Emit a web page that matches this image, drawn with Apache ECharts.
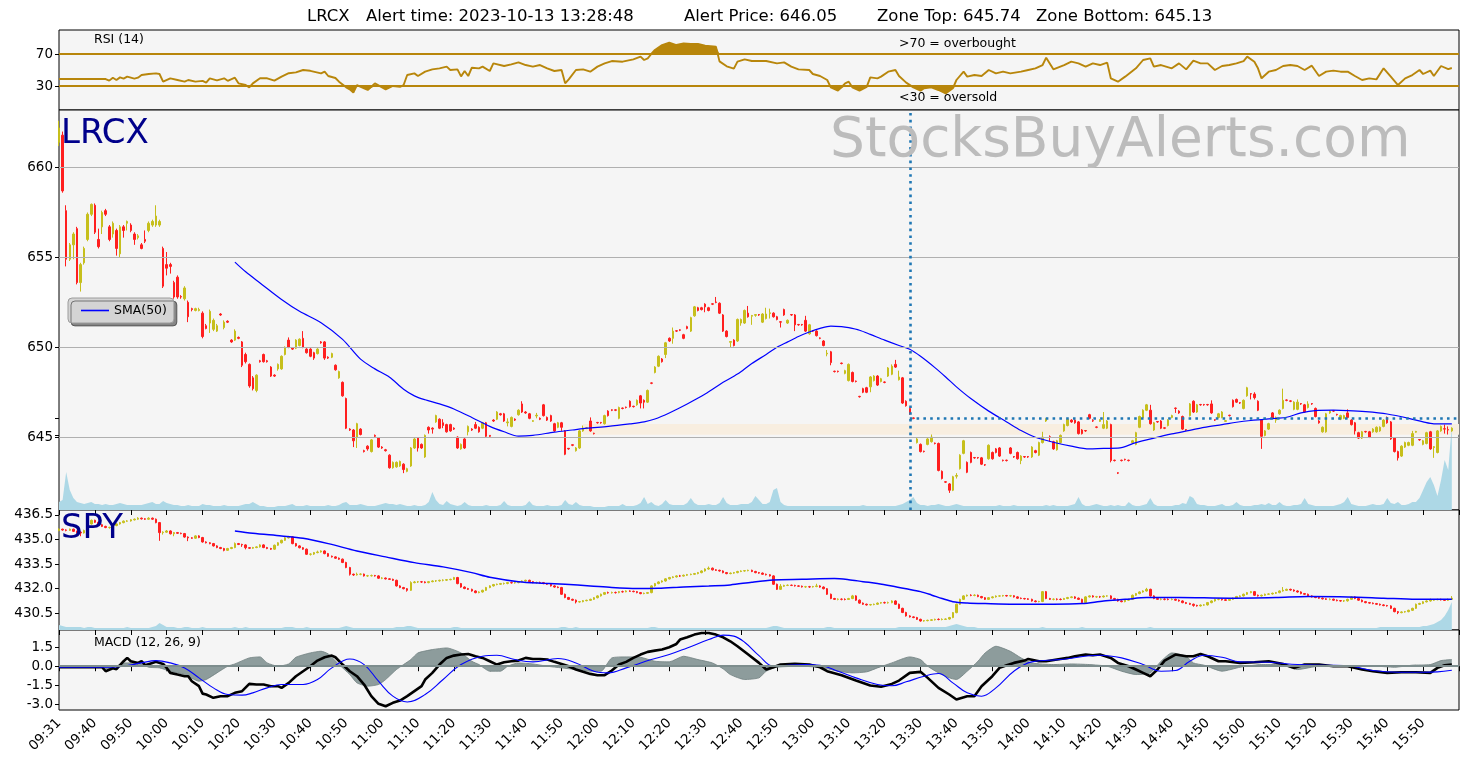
<!DOCTYPE html>
<html><head><meta charset="utf-8">
<script src="https://cdn.jsdelivr.net/npm/echarts@6/dist/echarts.min.js"></script>
<style>html,body{margin:0;padding:0;background:#fff}#c{width:1474px;height:768px}</style>
</head><body><div id="c"></div>
<script>
const tickLabels = ['09:31','09:40','09:50','10:00','10:10','10:20','10:30','10:40','10:50','11:00','11:10','11:20','11:30','11:40','11:50','12:00','12:10','12:20','12:30','12:40','12:50','13:00','13:10','13:20','13:30','13:40','13:50','14:00','14:10','14:20','14:30','14:40','14:50','15:00','15:10','15:20','15:30','15:40','15:50'];

const lrcxCandles = [
[661.4,662.2,661.2,662.6],[661.8,658.7,658.6,662.0],[657.6,654.9,654.5,657.9],[654.9,655.7,654.8,655.8],[655.7,656.3,654.9,656.4],[656.6,653.6,653.5,656.7],[653.6,654.6,653.1,654.7],[654.7,655.5,654.6,655.6],[656.0,657.4,655.9,657.5],[657.4,657.95,657.3,658.0],
[657.9,656.4,656.3,658.0],[656.0,655.6,655.5,656.6],[656.7,657.5,656.3,657.6],[657.6,657.4,657.3,657.7],[656.7,656.0,655.9,656.8],[656.3,656.9,656.1,657.0],[656.5,655.5,655.1,656.6],[655.2,656.7,655.0,656.8],[656.7,656.5,656.1,656.8],[656.9,657.0,656.5,657.05],
[656.8,656.5,656.4,656.9],[656.3,656.0,655.7,656.4],[656.1,656.2,656.0,656.3],[655.7,655.5,655.45,655.8],[656.0,655.9,655.8,656.5],[656.5,656.9,656.4,657.0],[656.8,657.0,656.7,657.1],[656.8,657.3,656.7,657.9],[656.8,657.0,656.7,657.1],[655.5,653.4,653.3,655.6],
[654.6,654.4,654.0,655.3],[654.6,654.5,654.1,654.7],[653.6,652.8,652.7,653.7],[653.9,652.8,652.7,654.0],[652.82,652.8,652.7,652.9],[652.7,653.3,652.6,653.4],[652.5,651.7,651.4,652.6],[652.15,652.1,652.0,652.2],[652.05,652.15,652.0,652.2],[652.05,652.1,652.0,652.2],
[651.9,650.6,650.5,652.0],[651.2,651.05,651.0,651.3],[651.35,652.0,650.8,652.1],[651.0,651.5,650.9,651.6],[650.9,651.2,650.85,651.3],[651.85,651.8,651.75,651.9],[651.1,651.4,651.0,651.5],[651.45,651.4,651.35,651.5],[650.4,650.3,650.25,650.45],[650.4,650.9,650.35,651.0],
[650.55,650.5,650.45,650.6],[650.3,649.0,648.9,650.35],[649.6,649.2,649.1,649.7],[649.05,647.85,647.75,649.1],[648.3,647.7,647.6,648.4],[647.6,648.45,647.5,648.5],[649.25,649.2,649.15,649.3],[649.6,649.2,649.15,649.65],[649.25,649.2,649.15,649.3],[648.9,648.4,648.35,648.95],
[648.45,648.4,648.35,648.5],[648.8,649.05,648.7,649.1],[648.8,649.5,648.75,649.55],[649.6,650.0,649.55,650.05],[650.4,650.0,649.95,650.55],[649.95,649.9,649.85,650.0],[649.95,650.4,649.9,650.45],[650.1,650.45,650.05,650.5],[650.5,650.0,649.95,650.9],[649.9,649.7,649.65,649.95],
[649.9,649.5,649.45,649.95],[649.7,649.4,649.3,649.75],[649.65,649.9,649.6,649.95],[650.3,650.25,650.2,650.35],[650.3,649.4,649.3,650.35],[649.45,649.4,649.35,649.5],[649.45,649.65,649.4,649.7],[649.0,648.75,648.7,649.05],[648.3,648.65,648.25,648.7],[648.05,647.3,647.25,648.1],
[647.15,645.5,645.45,647.2],[645.45,645.4,645.35,645.5],[645.4,644.8,644.45,645.45],[645.0,645.75,644.4,645.8],[645.45,645.15,645.1,645.5],[644.25,644.2,644.15,644.3],[644.5,644.35,644.25,644.55],[644.2,644.85,644.15,644.9],[645.1,645.05,645.0,645.15],[644.95,644.45,644.4,645.0],
[644.45,644.4,644.35,644.5],[644.3,644.25,644.2,644.35],[644.0,643.3,643.25,644.05],[643.3,643.6,643.25,643.65],[643.35,643.6,643.3,643.65],[643.4,643.65,643.35,643.7],[643.5,643.2,643.0,643.55],[643.1,643.25,643.05,643.3],[643.4,644.4,643.35,644.45],[644.4,644.9,644.35,644.95],
[644.95,644.4,644.2,645.0],[644.6,644.4,644.35,644.65],[643.9,645.1,643.85,645.15],[645.55,645.4,645.2,645.6],[645.5,645.45,645.2,645.55],[645.85,646.2,645.8,646.25],[646.0,645.5,645.45,646.05],[645.8,645.65,645.5,646.0],[645.7,645.3,645.25,645.75],[645.7,645.35,645.3,645.75],
[645.5,645.45,645.4,645.55],[645.0,644.4,644.35,645.05],[644.35,644.6,644.3,644.65],[644.9,644.4,644.35,644.95],[645.3,645.6,645.1,645.65],[645.45,645.4,645.35,645.5],[645.7,645.5,645.45,645.85],[645.55,645.3,645.25,645.6],[645.5,645.8,645.45,645.85],[645.8,645.05,645.0,645.85],
[645.1,645.05,645.0,645.12],[645.95,645.9,645.85,646.0],[646.0,646.4,645.95,646.45],[646.3,646.25,646.2,646.35],[646.3,645.9,645.85,646.35],[645.8,645.85,645.6,646.05],[645.6,646.1,645.55,646.15],[646.0,645.95,645.9,646.05],[646.25,646.5,646.2,646.55],[646.85,646.4,646.35,647.0],
[646.4,646.35,646.3,646.45],[646.3,646.05,646.0,646.35],[645.88,645.92,645.85,645.95],[646.18,646.22,646.05,646.35],[646.05,646.0,645.95,646.1],[646.8,646.2,646.15,646.85],[646.1,645.95,645.9,646.15],[646.2,645.9,645.85,646.25],[645.75,645.35,645.3,645.8],[645.55,645.8,645.5,645.85],
[645.8,645.55,645.35,645.85],[645.35,644.05,644.0,645.4],[644.38,644.35,644.3,644.4],[644.58,644.55,644.5,644.6],[644.25,644.4,644.2,644.45],[644.4,645.35,644.35,645.4],[645.35,645.5,645.3,645.65],[645.48,645.52,645.45,645.55],[645.9,645.35,645.3,646.1],[645.22,645.2,645.15,645.25],
[645.82,645.8,645.75,645.85],[645.82,645.8,645.75,645.85],[645.75,646.2,645.7,646.25],[646.45,646.2,646.15,646.5],[646.52,646.5,646.45,646.55],[646.52,646.5,646.45,646.55],[646.05,646.65,646.0,646.7],[646.62,646.6,646.55,646.65],[646.67,646.65,646.6,646.7],[647.0,646.7,646.65,647.05],
[646.72,646.7,646.65,646.75],[646.8,647.05,646.75,647.1],[647.3,646.9,646.6,647.35],[647.05,646.95,646.6,647.1],[646.95,647.6,646.9,647.65],[648.02,648.0,647.95,648.05],[648.6,648.9,648.55,648.95],[648.95,649.5,648.9,649.55],[649.35,649.2,649.15,649.4],[649.6,650.25,649.4,650.3],
[650.5,650.35,650.3,650.55],[650.5,650.9,650.2,651.1],[650.92,650.9,650.85,650.95],[650.97,650.95,650.9,651.0],[650.7,650.5,650.45,650.75],[651.15,651.05,651.0,651.2],[650.9,651.65,650.85,651.7],[651.75,652.25,651.7,652.3],[652.2,652.05,652.0,652.25],[652.2,652.1,652.05,652.25],
[652.4,652.25,651.95,652.45],[652.2,652.05,652.0,652.25],[652.42,652.4,652.35,652.45],[652.52,652.5,652.45,652.8],[652.45,651.9,651.85,652.5],[651.8,650.9,650.85,651.85],[650.9,650.6,650.55,650.95],[650.28,650.32,650.0,650.35],[650.4,650.1,650.05,650.45],[650.35,651.55,650.3,651.6],
[651.35,651.55,651.2,651.6],[651.35,652.05,651.3,652.1],[651.9,651.7,651.65,652.3],[651.73,651.77,651.25,651.8],[651.78,651.82,651.7,651.85],[651.82,651.8,651.75,651.85],[651.4,651.85,651.35,651.9],[651.6,651.85,651.55,652.2],[651.88,651.92,651.6,652.15],[651.9,651.7,651.65,651.95],
[651.7,651.55,651.5,651.75],[651.42,651.4,651.1,651.45],[652.1,651.8,651.75,652.15],[651.35,651.5,651.3,651.55],[651.82,651.8,651.75,651.85],[651.8,651.25,650.9,651.85],[651.27,651.25,651.2,651.3],[651.27,651.25,651.2,651.3],[651.5,650.9,650.85,651.75],[650.75,651.25,650.7,651.3],
[650.92,650.9,650.85,650.95],[650.9,650.65,650.6,650.95],[650.52,650.5,650.45,650.55],[650.35,650.1,650.05,650.4],[649.63,649.67,649.5,649.85],[649.75,649.15,649.0,649.8],[648.67,648.65,648.6,648.7],[648.67,648.65,648.6,648.7],[649.12,649.1,649.05,649.15],[648.55,648.7,648.5,648.75],
[648.15,649.05,648.1,649.1],[648.6,648.1,648.05,648.65],[648.12,648.1,648.05,648.15],[647.27,647.25,647.2,647.3],[647.7,647.5,647.45,647.75],[647.75,647.5,647.45,647.8],[647.8,648.35,647.5,648.4],[648.15,648.4,648.1,648.45],[648.4,647.9,647.85,648.45],[648.1,648.25,648.05,648.3],
[648.07,648.05,648.0,648.1],[648.4,648.85,648.35,648.9],[648.5,648.95,648.45,649.05],[649.05,648.9,648.85,649.3],[648.2,648.35,648.15,648.7],[648.3,646.9,646.85,648.35],[647.0,646.75,646.7,647.05],[646.6,646.3,646.25,646.65],[646.07,646.05,646.0,646.1],[644.7,644.9,644.65,644.95],
[644.6,644.2,644.15,644.65],[644.22,644.2,644.15,644.25],[644.6,644.9,644.55,644.95],[644.75,645.0,644.7,645.15],[644.67,644.65,644.6,644.7],[644.65,643.15,643.1,644.7],[643.1,642.7,642.65,643.15],[642.52,642.5,642.45,642.55],[642.4,642.05,641.9,642.45],[642.05,642.8,642.0,642.85],
[642.83,642.87,642.7,643.0],[643.25,644.0,643.2,644.05],[644.1,644.8,644.05,644.85],[643.6,643.05,643.0,643.65],[644.15,643.6,643.55,644.2],[643.87,643.85,643.8,643.9],[643.87,643.85,643.8,643.9],[643.85,643.5,643.45,643.9],[643.47,643.45,643.4,643.5],[643.8,644.55,643.75,644.6],
[644.15,643.8,643.75,644.2],[644.35,644.15,644.1,644.4],[644.4,643.95,643.9,644.45],[643.72,643.7,643.65,643.75],[643.72,643.7,643.65,643.75],[644.4,644.1,644.05,644.45],[643.92,643.9,643.85,643.95],[644.15,643.8,643.75,644.2],[643.7,643.95,643.5,644.0],[643.92,643.9,643.85,643.95],
[643.92,643.9,643.85,643.95],[643.9,644.45,643.85,644.5],[644.25,644.15,644.1,644.3],[644.0,644.7,643.95,644.75],[644.7,645.0,644.65,645.3],[645.9,646.0,645.85,646.05],[645.02,645.0,644.75,645.1],[644.75,644.35,644.3,644.8],[644.3,644.8,644.25,644.85],[644.7,645.1,644.65,645.15],
[645.35,645.7,645.3,645.75],[645.65,646.0,645.6,646.05],[645.95,645.85,645.8,646.0],[645.95,645.8,645.75,646.0],[645.85,645.2,645.15,645.9],[645.4,645.2,645.15,645.45],[645.37,645.35,645.3,645.4],[646.25,646.05,646.0,646.3],[645.92,645.9,645.85,646.0],[645.57,645.55,645.5,645.6],
[645.88,645.95,645.85,646.0],[645.5,645.7,645.45,646.4],[645.5,645.9,645.45,645.95],[645.7,643.7,643.6,645.75],[643.72,643.7,643.65,643.75],[643.02,643.0,642.95,643.05],[643.72,643.7,643.65,643.75],[643.77,643.75,643.7,643.8],[643.72,643.7,643.65,643.75],[644.7,644.8,644.65,644.85],
[644.6,645.25,644.55,645.3],[645.55,646.15,645.5,646.2],[646.1,646.5,646.05,646.55],[646.5,646.8,646.45,646.85],[646.5,645.75,645.7,646.8],[645.4,645.8,645.35,645.85],[645.87,645.85,645.8,645.9],[645.9,645.5,645.45,645.95],[645.52,645.5,645.45,645.55],[645.65,645.95,645.6,646.0],
[646.1,646.2,646.05,646.25],[646.62,646.6,646.35,646.65],[646.45,646.35,646.3,646.5],[646.15,645.45,645.4,646.2],[645.42,645.4,645.35,645.45],[646.2,646.85,646.15,646.9],[647.0,646.4,646.35,647.05],[646.4,646.8,646.35,646.85],[646.82,646.8,646.75,646.85],[646.82,646.8,646.75,646.85],
[646.82,646.8,646.75,646.85],[646.85,646.35,646.3,647.05],[645.97,645.95,645.9,646.0],[646.1,646.3,646.05,646.35],[646.1,646.4,646.05,646.45],[645.88,645.92,645.85,645.95],[646.22,646.2,646.15,646.25],[647.05,646.7,646.65,647.1],[647.1,646.95,646.9,647.15],[646.92,646.9,646.85,646.95],
[646.6,647.05,646.55,647.1],[647.3,647.75,647.25,647.8],[647.42,647.4,647.1,647.45],[647.4,647.2,647.1,647.5],[647.0,646.5,646.45,647.05],[645.95,645.05,644.35,646.0],[645.1,645.35,645.05,645.4],[645.45,645.75,645.4,645.8],[646.35,646.05,646.0,646.4],[645.95,646.1,645.8,646.15],
[646.3,646.5,646.25,646.55],[646.6,647.05,646.55,647.7],[647.07,647.05,647.0,647.1],[647.02,647.0,646.95,647.05],[646.55,646.95,646.5,647.0],[646.55,646.95,646.5,647.1],[646.87,646.85,646.8,646.9],[646.8,646.4,646.35,646.85],[646.65,646.85,646.6,647.0],[646.87,646.85,646.8,646.9],
[646.6,646.15,646.1,646.65],[645.9,645.8,645.75,645.95],[645.3,645.55,645.25,645.6],[645.3,646.3,645.25,646.35],[646.35,646.45,646.3,646.5],[646.47,646.45,646.4,646.5],[646.27,646.25,646.2,646.3],[646.0,646.2,645.95,646.25],[646.05,646.2,646.0,646.25],[646.35,646.1,646.05,646.55],
[645.95,645.7,645.65,646.0],[645.8,645.35,645.15,645.85],[645.25,644.95,644.9,645.3],[644.95,645.3,644.9,645.35],[645.32,645.3,645.25,645.35],[645.3,645.0,644.95,645.35],[645.3,645.45,645.25,645.5],[645.3,645.55,645.25,645.6],[645.35,645.55,645.3,645.6],[645.6,645.95,645.55,646.0],
[646.1,645.8,645.75,646.15],[645.85,644.9,644.85,645.9],[644.95,644.2,644.15,645.0],[644.2,643.85,643.7,644.25],[643.95,644.5,643.9,644.55],[644.45,644.7,644.4,644.75],[644.55,644.7,644.5,644.75],[644.55,645.2,644.5,645.35],[645.28,645.32,645.25,645.35],[644.87,644.85,644.8,644.9],
[644.6,644.8,644.55,644.85],[644.65,645.25,644.6,645.3],[645.3,644.35,644.3,645.35],[644.43,644.47,643.85,644.5],[644.15,645.35,644.1,645.4],[645.35,645.6,645.3,645.65],[645.47,645.45,645.2,645.7],[645.42,645.4,645.15,645.6],[645.35,645.5,645.3,645.55]
];

const lrcxVolume = [
8,10,38,20,12,8,7,6,7,8, 6,6,5,6,5,5,6,7,6,5, 5,5,5,5,6,7,8,6,6,9, 7,6,5,5,4,4,5,4,4,4,
6,5,5,4,4,4,5,4,4,4, 4,5,6,6,8,6,4,4,3,3, 3,4,4,4,5,6,4,4,4,5, 4,4,4,4,4,5,4,4,5,7,
8,5,5,5,6,5,4,4,4,5, 6,7,6,6,5,6,5,4,4,5, 4,4,5,8,18,10,6,5,9,6, 5,4,5,8,5,4,4,4,4,5,
4,4,4,5,9,5,4,4,4,4, 5,9,5,4,4,4,5,4,4,4, 5,10,6,5,8,5,4,4,4,3, 3,3,3,4,4,4,4,6,4,4,
4,5,7,13,6,8,5,4,6,10, 6,5,5,5,5,7,12,7,5,5, 5,6,5,5,7,13,7,5,5,5, 6,6,6,8,14,10,6,6,8,20,
22,8,5,4,4,4,4,4,4,4, 4,4,4,4,4,4,4,4,4,4, 4,4,4,4,5,4,4,4,4,4, 4,4,4,4,5,6,8,10,13,7,
5,5,4,5,5,6,5,4,4,5, 6,5,4,4,4,4,4,4,4,4, 4,4,5,4,4,4,5,4,4,4, 4,4,4,4,4,5,4,5,4,4,
4,4,5,6,13,6,4,4,5,6, 5,4,4,5,4,5,4,4,8,5, 4,4,5,6,12,6,4,4,4,4, 4,5,5,7,6,14,12,6,5,5,
4,4,4,5,6,4,4,5,8,5, 4,4,4,5,5,6,5,7,5,5, 8,5,4,4,5,5,6,12,6,5, 4,4,4,4,4,4,5,6,8,13,
6,5,4,4,4,5,6,5,5,6, 12,7,6,8,5,5,6,8,8,12, 20,28,33,25,14,30,50,40,85
];

const lrcxSma = [[49,654.74],[52,654.2],[56,653.58],[62,652.66],[67,652.0],[73,651.37],[79,650.44],[84,649.34],[88,648.8],[92,648.35],[96,647.67],[99,647.3],[102,647.08],[106,646.85],[110,646.57],[115,646.1],[120,645.6],[124,645.3],[128,645.06],[132,645.1],[138,645.28],[143,645.4],[147,645.5],[153,645.6],[159,645.74],[163,645.85],[166,646.01],[170,646.35],[175,646.85],[180,647.4],[185,648.05],[189,648.51],[193,649.1],[197,649.6],[200,650.0],[203,650.3],[206,650.6],[209,650.85],[212,651.05],[215,651.18],[218,651.15],[220,651.09],[223,650.95],[226,650.72],[230,650.4],[234,650.1],[237,649.89],[240,649.5],[244,648.87],[247,648.35],[250,647.8],[254,647.15],[259,646.45],[264,645.85],[268,645.37],[272,645.0],[277,644.72],[282,644.5],[287,644.35],[291,644.38],[295,644.39],[300,644.7],[305,644.95],[310,645.18],[315,645.38],[319,645.55],[324,645.7],[328,645.83],[332,645.93],[335,645.98],[339,646.05],[342,646.11],[346,646.35],[350,646.48],[355,646.5],[359,646.48],[364,646.42],[370,646.29],[376,646.05],[380,645.85],[383,645.74],[388,645.74]];

const spyCandles = [
[435.55,435.63,435.50,435.68],[435.63,435.58,435.54,435.66],[435.58,435.56,435.50,435.62],[435.56,435.63,435.52,435.67],[435.63,435.50,435.46,435.66],[435.50,435.45,435.38,435.54],[435.45,435.40,435.20,435.49],[435.40,435.55,435.36,435.60],[435.55,435.95,435.51,436.00],[435.95,436.17,435.91,436.22],
[436.17,436.05,436.01,436.21],[436.05,435.90,435.86,436.09],[435.90,435.80,435.76,435.94],[435.80,435.73,435.69,435.84],[435.73,435.74,435.66,435.78],[435.74,435.85,435.69,435.89],[435.85,435.95,435.81,435.99],[435.95,436.03,435.91,436.07],[436.03,436.12,435.99,436.16],[436.12,436.13,436.08,436.18],
[436.13,436.20,436.09,436.24],[436.20,436.24,436.16,436.28],[436.24,436.30,436.20,436.36],[436.30,436.26,436.22,436.34],[436.26,436.24,436.20,436.30],[436.24,436.30,436.20,436.36],[436.30,436.24,436.20,436.34],[436.24,436.03,435.99,436.28],[436.03,435.42,434.92,436.07],[435.42,435.45,435.30,435.50],
[435.45,435.52,435.41,435.58],[435.52,435.35,435.31,435.56],[435.35,435.42,435.20,435.46],[435.42,435.38,435.34,435.46],[435.38,435.36,435.32,435.42],[435.36,435.15,435.11,435.40],[435.15,435.10,434.90,435.19],[435.10,435.08,435.04,435.14],[435.08,435.22,435.04,435.26],[435.22,435.12,435.08,435.26],
[435.12,434.85,434.81,435.16],[434.85,434.80,434.76,434.89],[434.80,434.75,434.71,434.84],[434.75,434.61,434.57,434.79],[434.61,434.51,434.47,434.65],[434.51,434.45,434.41,434.55],[434.45,434.34,434.28,434.49],[434.34,434.45,434.30,434.49],[434.45,434.51,434.41,434.55],[434.51,434.75,434.47,434.82],
[434.75,434.70,434.66,434.79],[434.70,434.67,434.55,434.74],[434.67,434.50,434.40,434.71],[434.50,434.47,434.43,434.54],[434.47,434.51,434.43,434.55],[434.51,434.55,434.47,434.59],[434.55,434.67,434.51,434.71],[434.67,434.51,434.47,434.71],[434.51,434.45,434.41,434.55],[434.45,434.41,434.37,434.49],
[434.41,434.65,434.37,434.69],[434.65,434.80,434.61,434.84],[434.80,434.95,434.76,434.99],[434.95,435.10,434.91,435.14],[435.10,435.16,435.06,435.22],[435.16,434.75,434.71,435.20],[434.75,434.61,434.57,434.79],[434.61,434.50,434.46,434.65],[434.50,434.41,434.37,434.54],[434.41,434.10,434.06,434.45],
[434.10,434.11,434.02,434.16],[434.11,434.20,434.06,434.24],[434.20,434.24,434.16,434.32],[434.24,434.30,434.20,434.34],[434.30,434.14,434.10,434.34],[434.14,433.98,433.94,434.18],[433.98,433.94,433.90,434.02],[433.94,433.86,433.82,433.98],[433.86,433.80,433.76,433.90],[433.80,433.60,433.56,433.84],
[433.60,433.29,433.25,433.64],[433.29,432.88,432.80,433.33],[432.88,432.84,432.78,432.92],[432.84,432.88,432.80,432.98],[432.88,432.89,432.82,432.94],[432.89,432.78,432.74,432.92],[432.78,432.79,432.72,432.84],[432.79,432.80,432.74,432.86],[432.80,432.78,432.74,432.84],[432.78,432.64,432.60,432.82],
[432.64,432.65,432.58,432.70],[432.65,432.60,432.56,432.68],[432.60,432.57,432.53,432.64],[432.57,432.51,432.47,432.61],[432.51,432.17,432.13,432.55],[432.17,432.07,432.03,432.21],[432.07,432.00,431.96,432.11],[432.00,431.90,431.82,432.04],[431.90,432.37,431.86,432.45],[432.37,432.41,432.33,432.47],
[432.41,432.42,432.35,432.47],[432.42,432.41,432.35,432.47],[432.41,432.37,432.33,432.45],[432.37,432.43,432.33,432.47],[432.43,432.47,432.39,432.51],[432.47,432.48,432.41,432.53],[432.48,432.51,432.43,432.55],[432.51,432.52,432.45,432.57],[432.52,432.55,432.47,432.59],[432.55,432.57,432.51,432.61],
[432.57,432.68,432.53,432.72],[432.68,432.31,432.27,432.72],[432.31,432.10,432.06,432.35],[432.10,432.01,431.97,432.14],[432.01,431.96,431.92,432.05],[431.96,431.86,431.82,432.00],[431.86,431.76,431.72,431.90],[431.76,431.80,431.72,431.84],[431.80,431.90,431.76,431.94],[431.90,432.07,431.86,432.11],
[432.07,432.17,432.03,432.21],[432.17,432.25,432.13,432.29],[432.25,432.27,432.21,432.31],[432.27,432.31,432.23,432.35],[432.31,432.32,432.25,432.37],[432.32,432.37,432.27,432.41],[432.37,432.36,432.31,432.43],[432.36,432.37,432.31,432.43],[432.37,432.43,432.33,432.47],[432.43,432.47,432.39,432.51],
[432.47,432.51,432.43,432.55],[432.51,432.43,432.39,432.55],[432.43,432.37,432.33,432.47],[432.37,432.38,432.31,432.43],[432.38,432.37,432.31,432.43],[432.37,432.31,432.27,432.41],[432.31,432.27,432.23,432.35],[432.27,432.17,432.13,432.31],[432.17,432.10,432.06,432.21],[432.10,432.07,432.03,432.14],
[432.07,431.66,431.62,432.11],[431.66,431.46,431.42,431.70],[431.46,431.35,431.31,431.50],[431.35,431.30,431.26,431.39],[431.30,431.19,431.10,431.34],[431.19,431.21,431.15,431.25],[431.21,431.27,431.17,431.31],[431.27,431.29,431.23,431.33],[431.29,431.35,431.25,431.39],[431.35,431.45,431.31,431.49],
[431.45,431.56,431.41,431.60],[431.56,431.66,431.52,431.70],[431.66,431.76,431.62,431.80],[431.76,431.75,431.70,431.82],[431.75,431.77,431.70,431.82],[431.77,431.76,431.70,431.82],[431.76,431.82,431.72,431.86],[431.82,431.81,431.76,431.88],[431.81,431.86,431.78,431.90],[431.86,431.84,431.80,431.90],
[431.84,431.82,431.78,431.88],[431.82,431.76,431.72,431.86],[431.76,431.70,431.66,431.80],[431.70,431.72,431.66,431.76],[431.72,431.76,431.68,431.80],[431.76,432.17,431.72,432.21],[432.17,432.31,432.13,432.35],[432.31,432.41,432.27,432.45],[432.41,432.47,432.37,432.51],[432.47,432.60,432.43,432.64],
[432.60,432.68,432.56,432.72],[432.68,432.72,432.64,432.76],[432.72,432.78,432.68,432.82],[432.78,432.77,432.72,432.84],[432.77,432.82,432.74,432.86],[432.82,432.86,432.78,432.90],[432.86,432.88,432.82,432.92],[432.88,432.92,432.84,432.96],[432.92,432.98,432.88,433.02],[432.98,433.08,432.94,433.12],
[433.08,433.20,433.04,433.24],[433.20,433.25,433.16,433.35],[433.25,433.15,433.11,433.29],[433.15,433.12,433.08,433.19],[433.12,433.08,433.04,433.16],[433.08,432.98,432.94,433.12],[432.98,432.92,432.88,433.02],[432.92,432.95,432.88,432.99],[432.95,432.98,432.91,433.02],[432.98,433.05,432.94,433.09],
[433.05,433.08,433.01,433.12],[433.08,433.10,433.04,433.14],[433.10,433.12,433.06,433.16],[433.12,433.05,433.01,433.16],[433.05,432.98,432.94,433.09],[432.98,432.95,432.91,433.02],[432.95,432.88,432.84,432.99],[432.88,432.85,432.81,432.92],[432.85,432.78,432.74,432.89],[432.78,432.27,432.23,432.82],
[432.27,431.96,431.92,432.31],[431.96,432.15,431.92,432.28],[432.15,432.20,432.11,432.24],[432.20,432.21,432.16,432.26],[432.21,432.20,432.16,432.25],[432.20,432.17,432.13,432.24],[432.17,432.15,432.11,432.21],[432.15,432.11,432.07,432.19],[432.11,432.12,432.05,432.17],[432.12,432.11,432.05,432.17],
[432.11,432.13,432.07,432.17],[432.13,432.17,432.09,432.30],[432.17,432.10,432.06,432.21],[432.10,432.00,431.96,432.14],[432.00,431.66,431.62,432.04],[431.66,431.40,431.36,431.70],[431.40,431.35,431.31,431.44],[431.35,431.36,431.29,431.41],[431.36,431.35,431.29,431.41],[431.35,431.34,431.29,431.41],
[431.34,431.40,431.31,431.44],[431.40,431.56,431.36,431.62],[431.56,431.30,431.26,431.60],[431.30,431.12,431.08,431.34],[431.12,431.05,431.01,431.16],[431.05,431.01,430.97,431.09],[431.01,431.03,430.97,431.07],[431.03,431.05,430.99,431.09],[431.05,431.12,431.01,431.16],[431.12,431.15,431.08,431.19],
[431.15,431.14,431.09,431.21],[431.14,431.15,431.09,431.21],[431.15,431.25,431.11,431.29],[431.25,431.05,431.01,431.29],[431.05,430.80,430.76,431.09],[430.80,430.55,430.51,430.84],[430.55,430.34,430.30,430.59],[430.34,430.28,430.24,430.38],[430.28,430.24,430.20,430.32],[430.24,430.13,430.09,430.28],
[430.13,430.03,429.99,430.17],[430.03,430.05,429.99,430.09],[430.05,430.07,430.01,430.11],[430.07,430.10,430.03,430.14],[430.10,430.13,430.06,430.17],[430.13,430.12,430.07,430.19],[430.12,430.13,430.07,430.19],[430.13,430.15,430.09,430.19],[430.15,430.24,430.11,430.28],[430.24,430.54,430.20,430.58],
[430.54,431.05,430.50,431.09],[431.05,431.35,431.01,431.39],[431.35,431.56,431.31,431.60],[431.56,431.60,431.52,431.64],[431.60,431.59,431.54,431.66],[431.59,431.60,431.54,431.66],[431.60,431.52,431.48,431.64],[431.52,431.45,431.41,431.56],[431.45,431.35,431.31,431.49],[431.35,431.45,431.31,431.49],
[431.45,431.50,431.41,431.54],[431.50,431.55,431.46,431.59],[431.55,431.56,431.51,431.60],[431.56,431.58,431.52,431.62],[431.58,431.56,431.52,431.62],[431.56,431.57,431.50,431.62],[431.57,431.50,431.46,431.60],[431.50,431.42,431.38,431.54],[431.42,431.40,431.36,431.46],[431.40,431.38,431.34,431.44],
[431.38,431.35,431.31,431.42],[431.35,431.25,431.21,431.39],[431.25,431.21,431.17,431.29],[431.21,431.22,431.17,431.26],[431.22,431.82,431.18,431.86],[431.82,431.40,431.36,431.86],[431.40,431.35,431.31,431.44],[431.35,431.36,431.29,431.41],[431.36,431.35,431.29,431.41],[431.35,431.34,431.29,431.41],
[431.34,431.40,431.31,431.44],[431.40,431.46,431.36,431.50],[431.46,431.50,431.42,431.54],[431.50,431.42,431.38,431.54],[431.42,431.35,431.31,431.46],[431.35,431.15,431.11,431.39],[431.15,431.50,431.11,431.54],[431.50,431.56,431.46,431.60],[431.56,431.50,431.46,431.60],[431.50,431.51,431.44,431.56],
[431.51,431.50,431.44,431.56],[431.50,431.55,431.46,431.59],[431.55,431.56,431.51,431.60],[431.56,431.40,431.36,431.60],[431.40,431.35,431.31,431.44],[431.35,431.25,431.21,431.39],[431.25,431.21,431.17,431.29],[431.21,431.30,431.17,431.34],[431.30,431.35,431.26,431.39],[431.35,431.60,431.31,431.64],
[431.60,431.70,431.56,431.74],[431.70,431.80,431.66,431.84],[431.80,431.86,431.76,431.90],[431.86,431.96,431.82,432.05],[431.96,431.56,431.52,432.00],[431.56,431.40,431.36,431.60],[431.40,431.35,431.31,431.44],[431.35,431.36,431.29,431.41],[431.36,431.35,431.29,431.41],[431.35,431.34,431.29,431.41],
[431.34,431.35,431.29,431.41],[431.35,431.30,431.26,431.39],[431.30,431.25,431.21,431.34],[431.25,431.15,431.11,431.29],[431.15,431.10,431.06,431.19],[431.10,431.05,431.01,431.14],[431.05,430.98,430.90,431.09],[430.98,430.95,430.91,431.02],[430.95,431.00,430.91,431.04],[431.00,431.01,430.96,431.05],
[431.01,431.15,430.97,431.19],[431.15,431.25,431.11,431.29],[431.25,431.35,431.21,431.39],[431.35,431.36,431.29,431.41],[431.36,431.32,431.28,431.39],[431.32,431.29,431.25,431.36],[431.29,431.35,431.25,431.39],[431.35,431.42,431.31,431.46],[431.42,431.52,431.38,431.56],[431.52,431.56,431.48,431.60],
[431.56,431.66,431.52,431.70],[431.66,431.76,431.62,431.80],[431.76,431.82,431.72,431.86],[431.82,431.60,431.56,431.86],[431.60,431.56,431.52,431.64],[431.56,431.60,431.52,431.64],[431.60,431.66,431.56,431.70],[431.66,431.68,431.62,431.72],[431.68,431.72,431.64,431.76],[431.72,431.76,431.68,431.80],
[431.76,431.86,431.72,431.90],[431.86,431.90,431.82,432.10],[431.90,431.96,431.86,432.00],[431.96,431.92,431.88,432.00],[431.92,431.86,431.82,431.96],[431.86,431.80,431.76,431.90],[431.80,431.70,431.66,431.84],[431.70,431.66,431.62,431.74],[431.66,431.56,431.52,431.70],[431.56,431.50,431.46,431.60],
[431.50,431.46,431.42,431.54],[431.46,431.42,431.38,431.50],[431.42,431.38,431.34,431.46],[431.38,431.35,431.31,431.42],[431.35,431.36,431.29,431.41],[431.36,431.30,431.26,431.39],[431.30,431.27,431.23,431.34],[431.27,431.25,431.21,431.31],[431.25,431.26,431.19,431.31],[431.26,431.35,431.21,431.39],
[431.35,431.50,431.31,431.54],[431.50,431.40,431.36,431.54],[431.40,431.30,431.26,431.44],[431.30,431.21,431.17,431.34],[431.21,431.15,431.11,431.25],[431.15,431.12,431.08,431.19],[431.12,431.09,431.05,431.16],[431.09,431.05,431.01,431.13],[431.05,431.01,430.97,431.09],[431.01,430.97,430.93,431.05],
[430.97,430.95,430.91,431.01],[430.95,430.80,430.76,430.99],[430.80,430.60,430.56,430.84],[430.60,430.54,430.45,430.64],[430.54,430.58,430.50,430.62],[430.58,430.60,430.54,430.64],[430.60,430.68,430.56,430.72],[430.68,430.80,430.64,430.84],[430.80,431.05,430.76,431.09],[431.05,431.10,431.01,431.14],
[431.10,431.20,431.06,431.24],[431.20,431.25,431.16,431.29],[431.25,431.30,431.21,431.40],[431.30,431.33,431.26,431.37],[431.33,431.35,431.29,431.39],[431.35,431.32,431.28,431.39],[431.32,431.29,431.25,431.36],[431.29,431.35,431.25,431.40],[431.35,431.42,431.31,431.55]
];

const spyVolume = [
5,4,3,3,3,3,3,2,3,3, 2,2,2,2,2,2,2,2,2,3, 2,2,2,2,2,2,3,4,7,5, 3,3,3,2,2,3,3,2,2,2,
3,2,2,2,2,2,2,2,2,3, 2,2,3,2,2,2,2,2,2,2, 2,2,2,3,3,3,2,2,2,3, 2,2,2,2,2,2,2,2,2,3,
4,3,2,2,2,2,2,2,2,2, 2,2,2,2,3,3,3,4,4,3, 2,2,2,2,2,2,2,2,2,2, 3,3,2,2,2,2,2,2,2,2,
2,2,2,2,2,2,2,2,2,2, 2,2,2,2,2,2,2,2,2,2, 3,3,2,2,3,2,2,2,2,2, 2,2,2,2,2,2,2,2,2,2,
2,2,2,2,2,3,3,2,2,2, 2,2,2,2,2,2,2,2,2,2, 2,2,2,2,2,2,2,2,2,2, 2,2,2,2,2,2,2,2,3,4,
4,3,2,2,2,2,2,2,2,2, 2,2,2,2,3,3,2,2,2,2, 2,2,2,2,2,2,2,2,2,2, 2,2,2,2,3,3,3,3,3,3,
3,3,3,3,3,3,3,3,4,5, 6,5,4,3,3,3,2,2,2,2, 2,2,2,2,2,2,2,2,2,2, 2,2,2,2,3,2,2,2,2,2,
2,2,2,2,2,3,2,2,2,2, 2,2,2,2,2,2,2,2,2,2, 2,2,2,2,3,2,2,2,2,2, 2,2,2,2,2,2,2,2,2,2,
2,2,2,2,2,2,2,2,2,2, 2,2,2,2,2,2,2,2,2,2, 2,2,2,2,2,2,2,2,2,2, 2,2,2,2,2,2,2,2,2,2,
2,2,2,2,2,2,2,2,3,3, 3,3,3,3,3,3,3,3,3,3, 4,4,5,6,8,10,14,20,28
];

const spySma = [[49,435.52],[54,435.38],[62,435.22],[68,435.08],[75,434.75],[83,434.30],[91,433.94],[99,433.59],[107,433.33],[115,432.98],[120,432.70],[128,432.43],[135,432.33],[141,432.27],[148,432.17],[154,432.07],[161,432.01],[167,432.03],[174,432.11],[181,432.17],[187,432.23],[193,432.40],[199,432.53],[207,432.57],[216,432.62],[220,432.55],[224,432.43],[228,432.32],[232,432.17],[236,432.00],[240,431.82],[243,431.62],[246,431.40],[249,431.21],[253,431.13],[258,431.09],[266,431.05],[277,431.05],[285,431.09],[291,431.25],[297,431.35],[303,431.46],[312,431.46],[326,431.42],[339,431.46],[348,431.52],[359,431.50],[369,431.42],[378,431.35],[388,431.35]];

const rsiPts = [[0,38.7],[13,38.7],[14,36.7],[15,40.4],[16,37.5],[17,40.8],[18,39.2],[19,41.7],[21,39.2],[22,40.4],[23,43.7],[25,45],[27,45.8],[28,45],[29,35.4],[31,39.6],[33,37.5],[35,35.4],[36,37.5],[38,35.4],[40,36.4],[41,34.2],[42,39.6],[44,37],[46,39.6],[47,36.5],[49,40.4],[50,33.3],[52,31.2],[53,28.3],[54,33.3],[56,39.6],[58,39.6],[60,36.7],[62,41.7],[64,46],[66,47],[68,50],[70,49],[73,45.8],[74,48],[75,42.5],[77,40],[78,35.4],[80,28.3],[81,25.8],[82,21.7],[83,31.2],[85,27.1],[86,25],[88,33.3],[90,28.3],[91,25.8],[93,30],[95,29],[96,31.2],[97,43.7],[99,45.8],[100,42.5],[102,48],[104,50.8],[106,52.1],[108,54.2],[109,50],[111,50.8],[112,42],[113,48.75],[114,42.5],[115,52.9],[117,52],[118,54.2],[120,48.75],[121,58.3],[124,55],[126,57.1],[128,59.6],[130,56.2],[132,54.2],[134,56.2],[136,52.1],[138,48.75],[140,50],[141,33.3],[142,38.3],[144,50],[146,50.8],[148,47.9],[150,54.2],[152,58.3],[154,61.2],[157,60.4],[160,63.3],[162,66.7],[163,62.5],[164,64.6],[165,70],[166,75],[168,81.2],[170,84.2],[172,81.2],[174,83.3],[176,82.5],[178,82.5],[180,80.4],[183,79.2],[184,60.8],[186,54.6],[188,51.7],[189,60.4],[191,63.3],[193,61.2],[197,61.2],[200,58.3],[202,59.6],[204,54.2],[206,50.8],[209,50],[210,45],[212,42.5],[214,37.5],[215,28.3],[217,24.2],[219,33.3],[220,35.4],[221,28.3],[223,24.2],[225,29],[226,40.8],[228,39.6],[229,41.7],[231,47.9],[233,50],[234,42.5],[236,34.2],[238,28.3],[240,24.2],[241,27.1],[243,28.3],[245,25],[247,20.8],[249,27.1],[250,37.5],[252,47.9],[253,41.7],[255,43.7],[257,42.5],[259,50],[261,45.8],[263,47.9],[265,45.8],[268,47.9],[270,50],[272,52.1],[274,56.2],[275,65.4],[277,50.8],[280,56.2],[282,60.4],[284,58.3],[286,54.2],[288,58.3],[290,56.2],[292,59.2],[293,39.6],[295,35.4],[297,41.7],[300,52.1],[302,62.5],[304,64.6],[305,54.2],[307,56.2],[310,52.1],[312,58.3],[314,50.8],[316,61.7],[318,58.3],[320,58.3],[322,50],[324,55],[326,56.2],[328,58.3],[330,61.2],[331,66.7],[333,60.4],[334,52.1],[335,39.6],[337,47.9],[339,50],[341,55],[343,56.2],[345,55],[347,50],[349,55.4],[351,42.5],[353,47.9],[355,49.2],[357,47.9],[359,47.9],[361,42.5],[363,37.5],[365,39.6],[367,38.3],[369,52.1],[371,41.7],[373,31.2],[375,39.6],[377,43.7],[379,50],[380,45],[382,49.2],[383,42.5],[385,55],[387,51.2],[388,52.5]];

const macdLine = [[0,-0.08],[12,-0.08],[13,-0.39],[15,-0.16],[16,-0.23],[18,0.39],[19,0.65],[20,0.39],[22,0.26],[23,0.39],[24,0.08],[26,0.26],[27,0.34],[29,0.18],[30,-0.13],[31,-0.52],[33,-0.65],[35,-0.78],[36,-0.78],[37,-1.17],[39,-1.56],[40,-2.14],[41,-2.21],[43,-2.47],[45,-2.34],[47,-2.34],[49,-2.08],[51,-1.95],[53,-1.38],[55,-1.43],[57,-1.43],[59,-1.56],[61,-1.56],[62,-1.69],[64,-1.30],[66,-0.78],[68,-0.39],[70,0],[72,0.44],[74,0.70],[76,0.83],[77,0.70],[79,0.13],[81,-0.39],[83,-0.78],[85,-1.43],[87,-2.34],[89,-2.94],[91,-3.13],[93,-2.86],[95,-2.68],[97,-2.34],[99,-1.95],[101,-1.56],[102,-1.04],[104,-0.52],[106,0.13],[108,0.65],[110,0.83],[112,0.91],[114,0.96],[116,0.78],[118,0.65],[120,0.39],[122,0.13],[124,0.31],[126,0.39],[128,0.44],[130,0.65],[132,0.57],[134,0.57],[136,0.52],[138,0.34],[140,0.18],[142,0],[144,-0.26],[146,-0.44],[148,-0.60],[150,-0.70],[152,-0.70],[154,-0.34],[156,0.13],[158,0.34],[160,0.65],[162,0.91],[164,1.12],[166,1.22],[168,1.30],[170,1.48],[172,1.74],[173,2.08],[175,2.26],[177,2.47],[179,2.60],[181,2.60],[183,2.47],[185,2.26],[187,1.95],[189,1.56],[192,0.91],[195,0.26],[197,-0.26],[199,-0.08],[201,0.13],[205,0.18],[209,0.13],[212,-0.08],[214,-0.39],[218,-0.70],[222,-1.12],[226,-1.51],[229,-1.61],[232,-1.38],[234,-1.12],[237,-0.52],[240,-0.44],[242,-0.91],[245,-1.69],[248,-2.21],[250,-2.60],[253,-2.34],[255,-2.34],[257,-1.56],[260,-0.78],[262,-0.13],[264,0.08],[266,0.26],[269,0.44],[270,0.57],[273,0.39],[275,0.39],[278,0.52],[281,0.65],[283,0.78],[286,0.91],[288,0.86],[290,0.91],[293,0.65],[295,0.26],[298,0],[300,-0.26],[302,-0.52],[304,-0.78],[306,-0.26],[308,0.44],[311,0.91],[314,0.78],[316,0.78],[318,0.96],[320,0.78],[323,0.39],[325,0.39],[329,0.26],[333,0.31],[337,0.39],[341,0.18],[344,-0.13],[347,0.13],[351,0.13],[355,0],[359,0],[363,-0.26],[366,-0.39],[370,-0.52],[374,-0.47],[378,-0.47],[382,-0.52],[384,-0.13],[386,0.08],[388,0.13]];

const macdSignal = [[0,-0.08],[14,-0.08],[18,0],[23,0.26],[27,0.44],[31,0.26],[35,-0.13],[39,-0.91],[43,-1.69],[47,-2.21],[51,-2.26],[54,-2.08],[58,-1.69],[62,-1.43],[68,-1.43],[72,-1.04],[76,-0.13],[81,0.57],[85,0.13],[89,-1.17],[93,-2.34],[97,-2.79],[102,-2.21],[107,-1.04],[112,0.13],[118,0.78],[122,0.86],[127,0.52],[132,0.34],[139,0.60],[144,0.26],[149,-0.39],[153,-0.52],[158,-0.13],[165,0.52],[170,0.91],[175,1.43],[181,2.08],[185,2.43],[188,2.35],[191,1.87],[195,0.83],[199,0],[203,0.08],[208,0.13],[212,0.08],[217,-0.39],[222,-0.91],[228,-1.43],[232,-1.53],[236,-1.22],[241,-0.78],[245,-0.57],[249,-1.30],[253,-2.08],[257,-2.34],[261,-1.69],[266,-0.39],[271,0.34],[279,0.52],[290,0.86],[296,0.65],[302,0.13],[307,-0.39],[311,-0.34],[315,0.39],[319,0.86],[324,0.70],[329,0.34],[337,0.31],[345,0.13],[353,0.08],[360,0],[366,-0.34],[373,-0.47],[380,-0.47],[384,-0.44],[388,-0.31]];

const macdHist = [[0,0],[12,0],[13,-0.2],[15,-0.1],[16,0],[18,0.26],[21,0.26],[23,0.18],[25,-0.08],[28,-0.13],[31,-0.39],[35,-0.65],[39,-1.17],[41,-1.04],[44,-0.52],[47,0],[49,0.18],[53,0.65],[56,0.73],[58,0.26],[61,0],[64,0.18],[66,0.70],[70,1.04],[73,1.17],[75,0.96],[78,0.13],[81,-0.65],[83,-1.30],[86,-1.56],[89,-1.43],[91,-1.04],[94,-0.26],[98,0.52],[100,1.04],[104,1.30],[108,1.43],[112,1.04],[115,0.39],[117,0.13],[120,-0.39],[123,-0.39],[125,0],[128,0.26],[132,0.18],[136,0],[140,-0.13],[144,-0.26],[148,-0.39],[151,-0.39],[154,0.65],[158,0.73],[162,0.70],[166,0.39],[170,0.34],[174,0.78],[178,0.52],[182,0.26],[185,-0.2],[187,-0.65],[191,-1.04],[195,-0.91],[197,-0.39],[200,-0.08],[207,0],[213,-0.13],[217,-0.39],[221,-0.52],[225,-0.44],[228,-0.13],[232,0.26],[237,0.73],[240,0.52],[242,0],[245,-0.52],[248,-0.91],[250,-1.04],[253,-0.39],[256,0.39],[258,1.04],[261,1.56],[265,1.17],[268,0.65],[271,0.26],[277,0.13],[282,0.18],[287,0.13],[292,0],[296,-0.39],[300,-0.65],[304,-0.52],[307,0.39],[310,1.04],[314,0.78],[316,0.26],[319,0.08],[324,-0.39],[329,-0.08],[335,0.13],[340,0.13],[345,-0.26],[351,0],[359,0],[367,0],[372,-0.08],[377,0.08],[382,0.13],[385,0.44],[388,0.52]];

const alertBar = 237, alertPrice = 646.05, zoneTop = 645.74, zoneBottom = 645.13, zoneStartBar = 146;

// ---- categories (one per minute) ----
const N_CAT = 391;
const cats = [];
for (let i = 0; i < N_CAT; i++) { const m = 9*60 + 31 + i; cats.push(String(Math.floor(m/60)).padStart(2,'0') + ':' + String(m%60).padStart(2,'0')); }

const FONT = 'DejaVu Sans';
const UP = '#c6bf1c', DOWN = '#ff1f1f', GOLD = '#b8860b';
const chart = echarts.init(document.getElementById('c'), null, {renderer:'canvas', width:1474, height:768});

const gridBase = {left:59, width:1400, show:true, backgroundColor:'#f5f5f5', borderColor:'#000', borderWidth:1, containLabel:false, outerBoundsMode:'none'};
function xAx(gi, labels) {
  return {type:'category', gridIndex:gi, data:cats, boundaryGap:false,
    axisLine:{show:false}, splitLine:{show:false},
    axisTick:{show: gi > 0, interval:9, length:5, lineStyle:{color:'#000'}},
    axisLabel: labels ? {show:true, interval:9, rotate:45, margin:11, color:'#000', fontSize:13.5, fontFamily:FONT,
      formatter:(v, idx) => (idx % 10 === 0 && idx/10 < tickLabels.length) ? tickLabels[idx/10] : ''} : {show:false}};
}
function yAx(gi, min, max, vals, fmt, ticks) {
  return {type:'value', gridIndex:gi, min:min, max:max, scale:true,
    axisLine:{show:false}, splitLine:{show:false},
    axisTick:{show:true, length:4, customValues: ticks || vals, lineStyle:{color:'#000'}},
    axisLabel:{show:true, customValues:vals, color:'#000', fontSize:13.5, fontFamily:FONT, margin:6, formatter:fmt}};
}
const hidY = (gi, max) => ({type:'value', gridIndex:gi, min:0, max:max, show:false, splitLine:{show:false}});

const obBase = rsiPts.map(p => [p[0], 70]);
const obFill = rsiPts.map(p => [p[0], Math.max(p[1], 70) - 70]);
const osBase = rsiPts.map(p => [p[0], Math.min(p[1], 30)]);
const osFill = rsiPts.map(p => [p[0], 30 - Math.min(p[1], 30)]);

const noSym = {symbol:'none', silent:true, animation:false};
const txt = (x, y, text, size, color, extra) => Object.assign({type:'text', x:x, y:y, z:100, silent:true,
  style:{text:text, fill:color || '#000', font: size + 'px "' + FONT + '"', textVerticalAlign:'middle'}}, extra || {});

const option = {
  animation:false,
  backgroundColor:'#ffffff',
  textStyle:{fontFamily:FONT},
  grid:[
    Object.assign({top:30, height:80}, gridBase),
    Object.assign({top:110, height:400}, gridBase),
    Object.assign({top:510, height:120}, gridBase),
    Object.assign({top:630, height:80}, gridBase)
  ],
  legend:{data:['SMA(50)'], left:68, top:298, icon:'rect', itemWidth:28, itemHeight:1.6, itemGap:6,
    backgroundColor:'#d4d4d4', borderColor:'#9c9c9c', borderWidth:1, borderRadius:4, padding:[6,7,6,13],
    shadowColor:'rgba(0,0,0,0.45)', shadowOffsetX:3, shadowOffsetY:3, shadowBlur:0,
    textStyle:{color:'#000', fontSize:12.5, fontFamily:FONT}, selectedMode:false},
  xAxis:[xAx(0,false), xAx(1,false), xAx(2,false), xAx(3,true)],
  yAxis:[
    yAx(0, 0, 100, [30,70], v => String(v)),
    yAx(1, 640.95, 663.2, [645,650,655,660], v => String(v), [645,645.13,646.05,650,655,660]),
    hidY(1, 400),
    yAx(2, 429.48, 436.8, [430.5,432,433.5,435,436.5], v => Number(v).toFixed(1)),
    hidY(2, 120),
    yAx(3, -3.42, 2.83, [-3,-1.5,0,1.5], v => Number(v).toFixed(1))
  ],
  series:[
    Object.assign({type:'line', name:'ob0', xAxisIndex:0, yAxisIndex:0, stack:'ob', data:obBase, lineStyle:{opacity:0, width:0}}, noSym),
    Object.assign({type:'line', name:'ob1', xAxisIndex:0, yAxisIndex:0, stack:'ob', data:obFill, lineStyle:{opacity:0, width:0}, areaStyle:{color:GOLD, opacity:1}}, noSym),
    Object.assign({type:'line', name:'os0', xAxisIndex:0, yAxisIndex:0, stack:'os', data:osBase, lineStyle:{opacity:0, width:0}}, noSym),
    Object.assign({type:'line', name:'os1', xAxisIndex:0, yAxisIndex:0, stack:'os', data:osFill, lineStyle:{opacity:0, width:0}, areaStyle:{color:GOLD, opacity:1}}, noSym),
    Object.assign({type:'line', name:'RSI', xAxisIndex:0, yAxisIndex:0, data:rsiPts, lineStyle:{color:GOLD, width:1.9}, z:3,
      markLine:{symbol:['none','none'], silent:true, animation:false, label:{show:false}, lineStyle:{color:GOLD, width:2, type:'solid'},
        data:[{yAxis:70},{yAxis:30}]}}, noSym),
    Object.assign({type:'line', name:'bg', xAxisIndex:1, yAxisIndex:1, data:lrcxSma, lineStyle:{opacity:0, width:0}, z:1,
      markArea:{silent:true, itemStyle:{color:'#f8eee0'}, data:[[{xAxis:cats[zoneStartBar], yAxis:zoneBottom},{xAxis:cats[N_CAT-1], yAxis:zoneTop}]]},
      markLine:{symbol:['none','none'], silent:true, animation:false, label:{show:false}, lineStyle:{color:'#b0b0b0', width:1, type:'solid'},
        data:[{yAxis:645},{yAxis:650},{yAxis:655},{yAxis:660}]}}, noSym),
    Object.assign({type:'line', name:'lrcxVol', xAxisIndex:1, yAxisIndex:2, data:lrcxVolume, lineStyle:{width:0, color:'#add8e6'}, areaStyle:{color:'#add8e6', opacity:1}, z:2}, noSym),
    {type:'candlestick', name:'LRCX', xAxisIndex:1, yAxisIndex:1, data:lrcxCandles, barWidth:2, silent:true, animation:false, z:3,
      itemStyle:{color:UP, color0:DOWN, borderColor:UP, borderColor0:DOWN, borderWidth:1}},
    Object.assign({type:'line', name:'SMA(50)', xAxisIndex:1, yAxisIndex:1, data:lrcxSma, smooth:0.3, lineStyle:{color:'#0000ff', width:1.2}, itemStyle:{color:'#0000ff'}, z:4,
      markLine:{symbol:['none','none'], silent:true, animation:false, label:{show:false}, lineStyle:{color:'#1f77b4', width:2.6, type:[2.6,4.2]},
        data:[{xAxis:cats[alertBar]}, [{coord:[cats[alertBar], alertPrice]},{coord:[cats[N_CAT-1], alertPrice]}]]}}, noSym),
    Object.assign({type:'line', name:'spyVol', xAxisIndex:2, yAxisIndex:4, data:spyVolume, lineStyle:{width:0, color:'#add8e6'}, areaStyle:{color:'#add8e6', opacity:1}, z:2}, noSym),
    {type:'candlestick', name:'SPY', xAxisIndex:2, yAxisIndex:3, data:spyCandles, barWidth:2, silent:true, animation:false, z:3,
      itemStyle:{color:UP, color0:DOWN, borderColor:UP, borderColor0:DOWN, borderWidth:1}},
    Object.assign({type:'line', name:'SPY SMA(50)', xAxisIndex:2, yAxisIndex:3, data:spySma, smooth:0.3, lineStyle:{color:'#0000ff', width:1.5}, z:4}, noSym),
    Object.assign({type:'line', name:'hist', xAxisIndex:3, yAxisIndex:5, data:macdHist, smooth:0.2, lineStyle:{color:'#6f7f7f', width:0.8}, areaStyle:{color:'#8d9c9c', opacity:1}, z:2,
      markLine:{symbol:['none','none'], silent:true, animation:false, label:{show:false}, lineStyle:{color:'#7d8d8d', width:2, type:'solid'}, data:[{yAxis:0}]}}, noSym),
    Object.assign({type:'line', name:'MACD', xAxisIndex:3, yAxisIndex:5, data:macdLine, lineStyle:{color:'#000', width:2.6}, z:3}, noSym),
    Object.assign({type:'line', name:'Signal', xAxisIndex:3, yAxisIndex:5, data:macdSignal, smooth:0.4, lineStyle:{color:'#0000ff', width:1.1}, z:4}, noSym)
  ],
  graphic:[
    txt(307, 17, 'LRCX', 16.5),
    txt(366, 17, 'Alert time: 2023-10-13 13:28:48', 16.5),
    txt(684, 17, 'Alert Price: 646.05', 16.5),
    txt(877, 17, 'Zone Top: 645.74', 16.5),
    txt(1036, 17, 'Zone Bottom: 645.13', 16.5),
    txt(94, 40, 'RSI (14)', 12.5),
    txt(899, 44, '>70 = overbought', 12.5),
    txt(899, 98, '<30 = oversold', 12.5),
    txt(94, 643, 'MACD (12, 26, 9)', 12.5),
    txt(61, 134, 'LRCX', 34, '#00008b'),
    txt(61, 529, 'SPY', 34, '#00008b'),
    txt(830, 142, 'StocksBuyAlerts.com', 55, '#bcbcbc')
  ]
};
chart.setOption(option);
</script>
</body></html>
